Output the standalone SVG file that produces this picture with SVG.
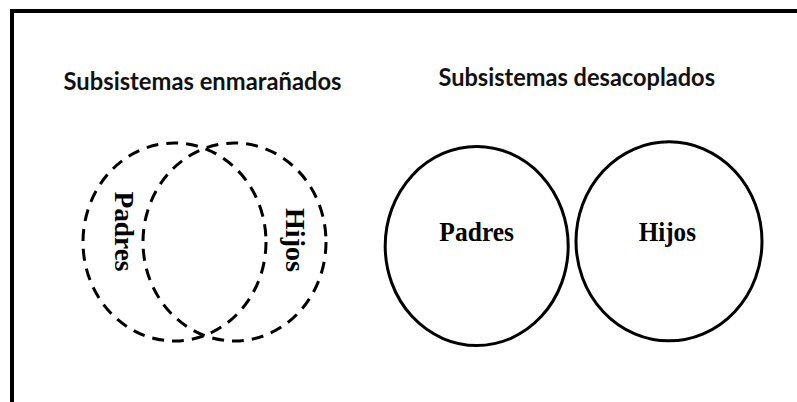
<svg xmlns="http://www.w3.org/2000/svg" width="797" height="402" viewBox="0 0 797 402">
  <style>
    .title { font-family: Lato, "Open Sans", "Liberation Sans", sans-serif; font-weight: bold; font-size: 24px; fill: #111; }
    .lbl { font-family: "Liberation Serif", "Times New Roman", serif; font-weight: bold; fill: #000; }
    .dash { fill: none; stroke: #000; stroke-width: 3; stroke-dasharray: 12 8; }
    .solid { fill: none; stroke: #000; stroke-width: 3; }
  </style>
  <rect width="797" height="402" fill="#fff"/>
  <g id="frame">
    <path d="M12 404 V11 H799" fill="none" stroke="#000" stroke-width="4"/>
  </g>
  <g id="title-enmaranados">
    <text class="title" x="63.5" y="90" textLength="278" lengthAdjust="spacingAndGlyphs">Subsistemas enmarañados</text>
  </g>
  <g id="title-desacoplados">
    <text class="title" x="438.5" y="86" textLength="276.5" lengthAdjust="spacingAndGlyphs">Subsistemas desacoplados</text>
  </g>
  <g id="padres-enmaranado">
    <ellipse class="dash" cx="174.5" cy="242" rx="91.5" ry="99"/>
    <text class="lbl" font-size="27" transform="translate(115,191.5) rotate(90)" x="0" y="0" textLength="80" lengthAdjust="spacingAndGlyphs">Padres</text>
  </g>
  <g id="hijos-enmaranado">
    <ellipse class="dash" cx="234.5" cy="242" rx="91.5" ry="99"/>
    <text class="lbl" font-size="27" transform="translate(286,208) rotate(90)" x="0" y="0" textLength="64" lengthAdjust="spacingAndGlyphs">Hijos</text>
  </g>
  <g id="padres-desacoplado">
    <ellipse class="solid" cx="476.7" cy="246" rx="91.5" ry="99.5"/>
    <text class="lbl" font-size="27" x="476.7" y="240.7" text-anchor="middle" textLength="74.7" lengthAdjust="spacingAndGlyphs">Padres</text>
  </g>
  <g id="hijos-desacoplado">
    <ellipse class="solid" cx="669" cy="241.3" rx="93" ry="99.5"/>
    <text class="lbl" font-size="27" x="667.3" y="240.7" text-anchor="middle" textLength="57.3" lengthAdjust="spacingAndGlyphs">Hijos</text>
  </g>
  <g id="connectors"/>
</svg>
